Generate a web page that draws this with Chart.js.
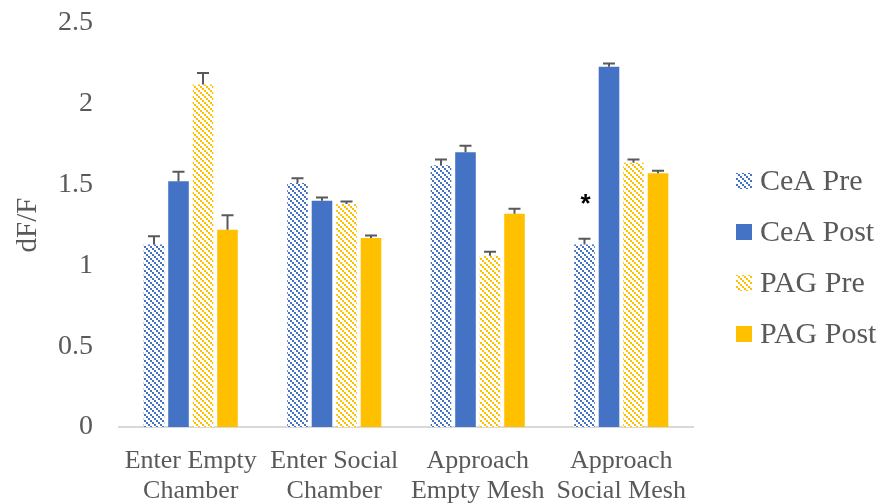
<!DOCTYPE html>
<html>
<head>
<meta charset="utf-8">
<script src="https://cdn.jsdelivr.net/npm/chart.js@4/dist/chart.umd.min.js"></script>
<style>
  html, body { margin: 0; padding: 0; background: #fff; }
  #wrap { width: 891px; height: 503px; position: relative; }
</style>
</head>
<body>
<div id="wrap"><canvas id="c" width="891" height="503"></canvas></div>
<script>
// Behaviour events (x-axis categories, two lines each)
const categories = [
  ['Enter Empty', 'Chamber'],
  ['Enter Social', 'Chamber'],
  ['Approach', 'Empty Mesh'],
  ['Approach', 'Social Mesh']
];

// Mean dF/F per group and its standard error
const ceaPre   = [1.13, 1.51, 1.62, 1.13];
const ceaPost  = [1.52, 1.40, 1.70, 2.23];
const pagPre   = [2.12, 1.38, 1.06, 1.635];
const pagPost  = [1.22, 1.17, 1.32, 1.57];

const ceaPreErr  = [0.05, 0.03, 0.035, 0.035];
const ceaPostErr = [0.06, 0.02, 0.04, 0.02];
const pagPreErr  = [0.07, 0.015, 0.025, 0.02];
const pagPostErr = [0.09, 0.015, 0.03, 0.015];

// Significance markers: [series index, category index]
const significance = [[0, 3]];

const yTicks = [0, 0.5, 1, 1.5, 2, 2.5];

const BLUE = '#4472C4';
const GOLD = '#FFC000';
const TEXT = '#595959';
const SERIF = '"Liberation Serif", "Times New Roman", serif';

// Downward-diagonal dotted hatch
function hatch(color) {
  const t = document.createElement('canvas');
  t.width = 6; t.height = 6;
  const g = t.getContext('2d');
  g.fillStyle = '#fff';
  g.fillRect(0, 0, 6, 6);
  g.fillStyle = color;
  g.fillRect(0, 0, 2, 2);
  g.fillRect(2, 2, 2, 2);
  g.fillRect(4, 4, 2, 2);
  return g.createPattern(t, 'repeat');
}

const ctx = document.getElementById('c').getContext('2d');

const errorBars = {
  id: 'errorBars',
  afterDatasetsDraw(chart) {
    const c = chart.ctx;
    const y = chart.scales.y;
    c.save();
    c.strokeStyle = '#595959';
    c.lineWidth = 2;
    chart.data.datasets.forEach((ds, di) => {
      const meta = chart.getDatasetMeta(di);
      meta.data.forEach((bar, i) => {
        const top = y.getPixelForValue(ds.data[i] + ds.errors[i]);
        c.beginPath();
        c.moveTo(bar.x, bar.y);
        c.lineTo(bar.x, top);
        c.moveTo(bar.x - 6, top);
        c.lineTo(bar.x + 6, top);
        c.stroke();
      });
    });
    // significance asterisks
    c.fillStyle = '#000';
    c.font = 'bold 26px "Liberation Sans", Arial, sans-serif';
    c.textAlign = 'center';
    c.textBaseline = 'middle';
    significance.forEach(([di, i]) => {
      const ds = chart.data.datasets[di];
      const bar = chart.getDatasetMeta(di).data[i];
      const top = y.getPixelForValue(ds.data[i] + ds.errors[i]);
      c.fillText('*', bar.x + 1, top - 34);
    });
    c.restore();
  }
};

const sideLegend = {
  id: 'sideLegend',
  afterDraw(chart) {
    const c = chart.ctx;
    c.save();
    c.font = '30px ' + SERIF;
    c.textBaseline = 'middle';
    c.textAlign = 'left';
    chart.data.datasets.forEach((ds, i) => {
      const cy = 181 + i * 51;
      c.fillStyle = ds.backgroundColor;
      c.fillRect(736, cy - 8, 16, 16);
      c.fillStyle = TEXT;
      c.fillText(ds.label, 760, cy + 1);
    });
    c.restore();
  }
};

new Chart(ctx, {
  type: 'bar',
  data: {
    labels: categories,
    datasets: [
      { label: 'CeA Pre',  data: ceaPre,  errors: ceaPreErr,  backgroundColor: hatch(BLUE) },
      { label: 'CeA Post', data: ceaPost, errors: ceaPostErr, backgroundColor: BLUE },
      { label: 'PAG Pre',  data: pagPre,  errors: pagPreErr,  backgroundColor: hatch(GOLD) },
      { label: 'PAG Post', data: pagPost, errors: pagPostErr, backgroundColor: GOLD }
    ]
  },
  options: {
    responsive: false,
    animation: false,
    devicePixelRatio: 1,
    categoryPercentage: 0.683,
    barPercentage: 0.84,
    layout: { padding: { top: 23, right: 198, bottom: 0, left: 0 } },
    plugins: {
      legend: { display: false },
      tooltip: { enabled: false }
    },
    scales: {
      x: {
        grid: { display: false, drawTicks: false },
        border: { display: true, color: '#D9D9D9', width: 2 },
        ticks: {
          color: TEXT,
          font: { family: SERIF, size: 26, lineHeight: 1.15 },
          padding: 19,
          maxRotation: 0,
          autoSkip: false
        },
        afterFit(scale) { scale.height = 76; scale.paddingTop = 0; scale.paddingBottom = 0; }
      },
      y: {
        min: 0,
        max: 2.5,
        afterBuildTicks(scale) { scale.ticks = yTicks.map(v => ({ value: v })); },
        grid: { display: false, drawTicks: false },
        border: { display: false },
        ticks: {
          color: TEXT,
          font: { family: SERIF, size: 28 },
          padding: 26,
          callback: v => String(v)
        },
        title: {
          display: true,
          text: 'dF/F',
          color: TEXT,
          font: { family: SERIF, size: 29 },
          padding: { top: 11, bottom: 0 }
        },
        afterFit(scale) { scale.width = 119; scale.paddingTop = 0; scale.paddingBottom = 0; }
      }
    }
  },
  plugins: [errorBars, sideLegend]
});
</script>
</body>
</html>
